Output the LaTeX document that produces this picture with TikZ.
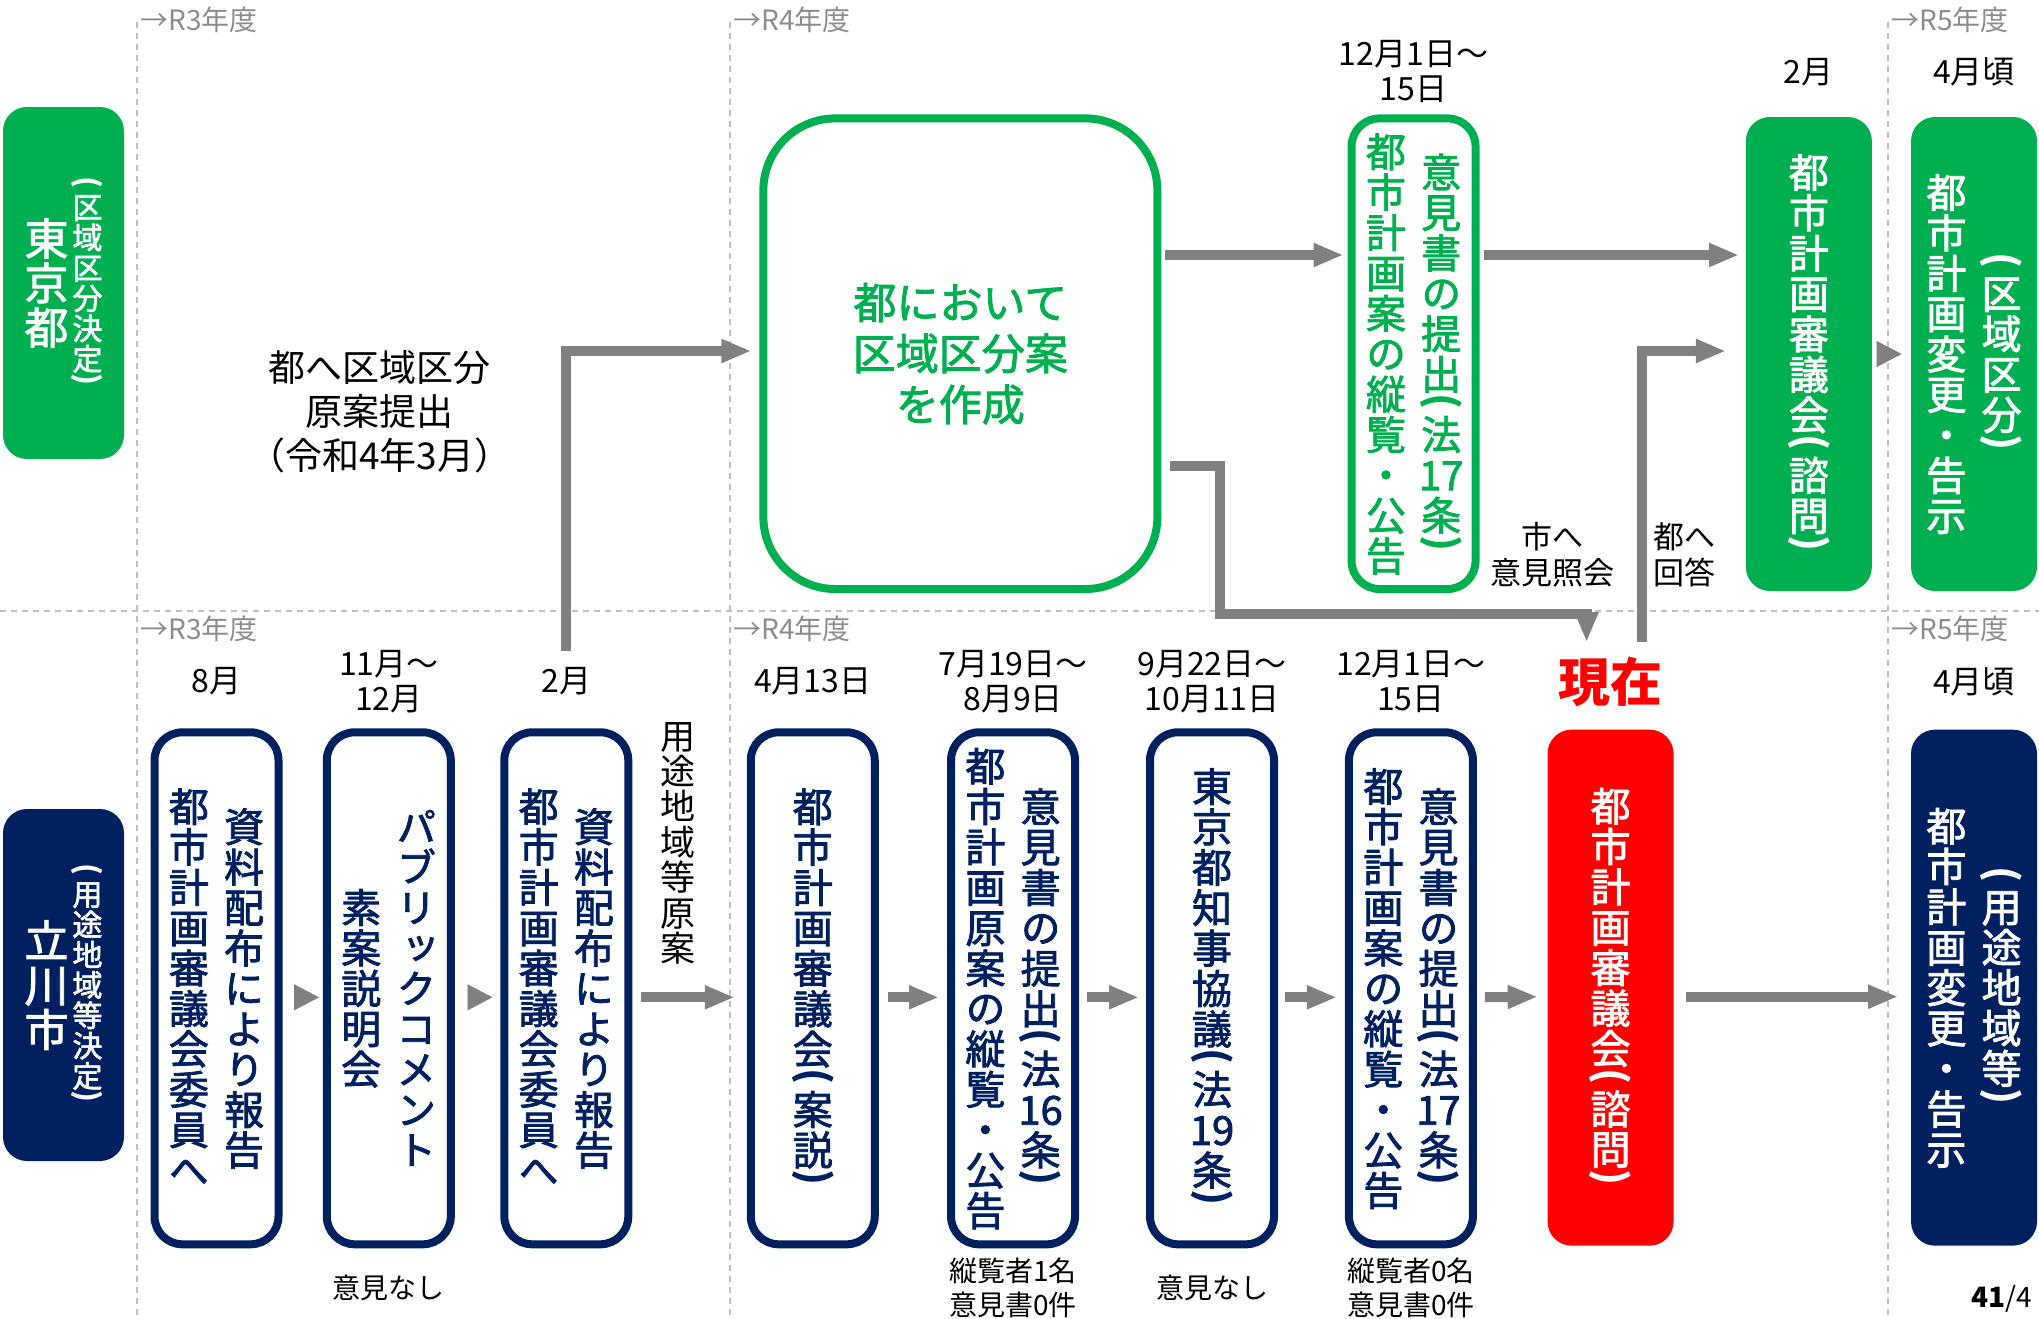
\documentclass[tikz,border=0pt]{standalone}
\usepackage{fontspec}
\usepackage{xcolor}
\usepackage{graphicx}
\usepackage{tikz}
\usetikzlibrary{arrows.meta}
\setmainfont{Noto Sans CJK JP}
\newfontfamily\plainfont{Noto Sans CJK JP}
\newfontfamily\midfont{Noto Sans CJK JP}[FakeBold=2]
\newfontfamily\tatefont{Noto Sans CJK JP}[RawFeature=+vert, BoldFont={Noto Sans CJK JP}, BoldFeatures={FakeBold=2}]
\definecolor{TokyoGreen}{HTML}{00B050}
\definecolor{CityNavy}{HTML}{002060}
\definecolor{NowRed}{HTML}{FF0000}
\definecolor{FlowGray}{HTML}{808080}
\definecolor{GridGray}{HTML}{BFBFBF}
\definecolor{YearGray}{HTML}{8C8C8C}

% vertical text: one cell per character, ( and ) turned and half high
\makeatletter
\def\tatelp{(}\def\taterp{)}
\newcommand\tate[1]{\vbox{\offinterlineskip\@tfor\tatech:=#1\do{\tatecell}}}
\newcommand\tatecell{%
  \ifx\tatech\tatelp\tatehalf{\rotatebox[origin=c]{-90}{\plainfont(}}%
  \else\ifx\tatech\taterp\tatehalf{\rotatebox[origin=c]{-90}{\plainfont)}}%
  \else\hbox to 1em{\hss\vrule height .885em depth .125em width 0pt\tatech\hss}\fi\fi}
\newcommand\tatehalf[1]{\hbox to 1em{\hss\vbox to .5em{\vss\hbox{#1}\vss}\hss}}
\newcommand\tatecols[2]{\hbox{$\vcenter{\tate{#1}}$\kern.38em$\vcenter{\tate{#2}}$}}
\newcommand\tagtext[2]{\hbox{$\vcenter{\fontsize{22pt}{22pt}\selectfont\tate{#1}}$\kern2pt$\vcenter{\fontsize{15pt}{15pt}\selectfont\tate{#2}}$}}
\makeatother
\newcommand\boxfont{\tatefont\bfseries\fontsize{20pt}{20pt}\selectfont}

\begin{document}
\begin{tikzpicture}[x=0.5pt, y=-0.5pt,
  cbox/.style={draw=CityNavy, line width=4pt, rounded corners=14pt, fill=white, text=CityNavy,
    minimum width=62pt, minimum height=256pt, inner sep=0pt, font=\boxfont},
  tbox/.style={cbox, draw=TokyoGreen, text=TokyoGreen},
  fillbox/.style={rounded corners=12pt, text=white, minimum width=63pt, minimum height=258pt,
    inner sep=0pt, font=\boxfont},
  tag/.style={rounded corners=12pt, text=white, minimum width=60.5pt, minimum height=176pt,
    inner sep=0pt, font=\tatefont\bfseries},
  dt/.style={font=\fontsize{16pt}{17.5pt}\selectfont, align=center, inner sep=0pt},
  memo/.style={font=\fontsize{14pt}{17pt}\selectfont, align=center, inner sep=0pt},
  fy/.style={font=\fontsize{14pt}{14pt}\selectfont, text=YearGray, anchor=west, inner sep=0pt},
  gridline/.style={draw=GridGray, line width=0.75pt, dash pattern=on 3pt off 2.5pt},
  flow/.style={draw=FlowGray, line width=5pt, -{Triangle[length=15pt, width=11pt]}},
  tri/.style={draw=FlowGray, line width=0.4pt, -{Triangle[length=12.5pt, width=13pt]}}
]
\useasboundingbox (0,0) rectangle (2039,1318);

% fiscal year grid
\draw[gridline] (0,611) -- (2039,611);
\foreach \gx in {137,730,1888}
  \draw[gridline] (\gx,22) -- (\gx,1318);
\foreach \gx/\yr in {140/3,733/4,1891/5} {
  \node[fy] (fyT\yr) at (\gx,19.5) {→R\yr 年度};
  \node[fy] (fyB\yr) at (\gx,629) {→R\yr 年度};
}

% row labels
\node[tag, fill=TokyoGreen] (tokyo) at (63.5,283) {\tagtext{東京都}{(区域区分決定)}};
\node[tag, fill=CityNavy] (tachi) at (63.5,985) {\tagtext{立川市}{(用途地域等決定)}};

% Tokyo row
\node[tbox, rounded corners=36pt, minimum width=197pt, minimum height=235.3pt, align=center,
  font=\midfont\fontsize{21.5pt}{25.5pt}\selectfont] (plan) at (960.35,353.7)
  {都において\\区域区分案\\を作成};
\node[tbox, minimum height=235.3pt] (pub2) at (1413.55,353.7)
  {\tatecols{都市計画案の縦覧・公告}{意見書の提出(法{17}条)}};
\node[fillbox, fill=TokyoGreen, minimum height=237pt] (tcouncil) at (1808.85,354)
  {\tate{都市計画審議会(諮問)}};
\node[fillbox, fill=TokyoGreen, minimum height=237pt] (tnotice) at (1974,354)
  {\tatecols{都市計画変更・告示}{(区域区分)}};

\coordinate (topdate) at (0,72);
\node[dt] (dpub2) at (pub2.north |- topdate) {12月1日～\\15日};
\node[dt] (dtcouncil) at (tcouncil.north |- topdate) {2月};
\node[dt] (dtnotice) at (tnotice.north |- topdate) {4月頃};

\node[font=\fontsize{18.5pt}{22pt}\selectfont, align=center] (submit) at (379.7,412)
  {都へ区域区分\\原案提出\\（令和4年3月）};
\node[font=\fontsize{15.5pt}{18pt}\selectfont, align=center] (ask) at (1552.7,555) {市へ\\意見照会};
\node[font=\fontsize{15.5pt}{18pt}\selectfont, align=center] (reply) at (1684,555) {都へ\\回答};

% Tachikawa row
\node[cbox] (rep1) at (216.5,988.3) {\tatecols{都市計画審議会委員へ}{資料配布により報告}};
\node[cbox] (pc) at (388.8,988.3) {\tatecols{素案説明会}{パブリックコメント}};
\node[cbox] (rep2) at (566.3,988.3) {\tatecols{都市計画審議会委員へ}{資料配布により報告}};
\node[cbox] (ccdraft) at (812.75,988.3) {\tate{都市計画審議会(案説)}};
\node[cbox] (pub1) at (1013,988.3) {\tatecols{都市計画原案の縦覧・公告}{意見書の提出(法{16}条)}};
\node[cbox] (tokyo19) at (1212,988.3) {\tate{東京都知事協議(法{19}条)}};
\node[cbox] (pub17) at (1410.9,988.3) {\tatecols{都市計画案の縦覧・公告}{意見書の提出(法{17}条)}};
\node[fillbox, fill=NowRed] (ccnow) at (1610.55,987.65) {\tate{都市計画審議会(諮問)}};
\node[fillbox, fill=CityNavy] (cnotice) at (1974,987.65) {\tatecols{都市計画変更・告示}{(用途地域等)}};

\coordinate (lowdate) at (0,681.5);
\node[dt] (drep1) at (rep1.north |- lowdate) {8月};
\node[dt] (dpc) at (pc.north |- lowdate) {11月～\\12月};
\node[dt] (drep2) at (rep2.north |- lowdate) {2月};
\node[dt] (dccdraft) at (ccdraft.north |- lowdate) {4月13日};
\node[dt] (dpub1) at (pub1.north |- lowdate) {7月19日～\\8月9日};
\node[dt] (dtokyo19) at (tokyo19.north |- lowdate) {9月22日～\\10月11日};
\node[dt] (dpub17) at (pub17.north |- lowdate) {12月1日～\\15日};
\node[dt] (dcnotice) at (cnotice.north |- lowdate) {4月頃};
\node[inner sep=7pt, text=NowRed, font=\plainfont\bfseries\fontsize{26pt}{26pt}\selectfont] (now)
  at (ccnow.north |- lowdate) {現在};

\coordinate (lownote) at (0,1288);
\node[memo] (npc) at (pc.south |- lownote) {意見なし};
\node[memo] (npub1) at (pub1.south |- lownote) {縦覧者1名\\意見書0件};
\node[memo] (ntokyo19) at (tokyo19.south |- lownote) {意見なし};
\node[memo] (npub17) at (pub17.south |- lownote) {縦覧者0名\\意見書0件};

\node[font=\tatefont\fontsize{17.5pt}{17.5pt}\selectfont, inner sep=0pt] (draft) at (677.5,842)
  {\tate{用途地域等原案}};

\node[anchor=south east, inner sep=0pt, font=\plainfont\fontsize{14pt}{14pt}\selectfont] (pageno)
  at (2032,1313) {\textbf{41}/4};

% connectors
\coordinate (lvA) at (0,255);
\coordinate (lvB) at (0,351);
\coordinate (bendA) at (1219.8,465.5);
\coordinate (bendB) at (1219.8,613.8);
\draw[flow, shorten <=2pt, shorten >=2pt] (plan.east |- lvA) -- (pub2.west |- lvA);
\draw[flow, shorten <=2pt, shorten >=3.2pt] (pub2.east |- lvA) -- (tcouncil.west |- lvA);
\draw[tri, shorten <=3.2pt, shorten >=4.5pt] (tcouncil.east) -- (tnotice.west);
\draw[flow, shorten >=4pt] ([yshift=8pt]drep2.north) |- (plan.west |- lvB);
\draw[flow, shorten <=4.5pt] (plan.east |- bendA) -- (bendA) -- (bendB) -| ([xshift=-12pt]now.north);
\draw[flow, shorten >=9.75pt] ([xshift=15.9pt]now.north) |- (tcouncil.west |- lvB);

\draw[tri, shorten <=5.75pt, shorten >=1.9pt] ([yshift=-4.5pt]rep1.east) -- ([yshift=-4.5pt]pc.west);
\draw[tri, shorten <=6.35pt, shorten >=3.9pt] ([yshift=-4.5pt]pc.east) -- ([yshift=-4.5pt]rep2.west);
\draw[flow, shorten <=4.35pt, shorten >=6pt] ([yshift=-4.5pt]rep2.east) -- ([yshift=-4.5pt]ccdraft.west);
\draw[flow, shorten <=4.6pt, shorten >=4pt] ([yshift=-4.5pt]ccdraft.east) -- ([yshift=-4.5pt]pub1.west);
\draw[flow, shorten <=4pt, shorten >=3.5pt] ([yshift=-4.5pt]pub1.east) -- ([yshift=-4.5pt]tokyo19.west);
\draw[flow, shorten <=3.5pt, shorten >=4pt] ([yshift=-4.5pt]tokyo19.east) -- ([yshift=-4.5pt]pub17.west);
\draw[flow, shorten <=4pt, shorten >=4.75pt] ([yshift=-4.5pt]pub17.east) -- ([yshift=-4.5pt]ccnow.west);
\draw[flow, shorten <=5.85pt, shorten >=6.2pt] ([yshift=-4.5pt]ccnow.east) -- ([yshift=-4.5pt]cnotice.west);
\end{tikzpicture}
\end{document}
